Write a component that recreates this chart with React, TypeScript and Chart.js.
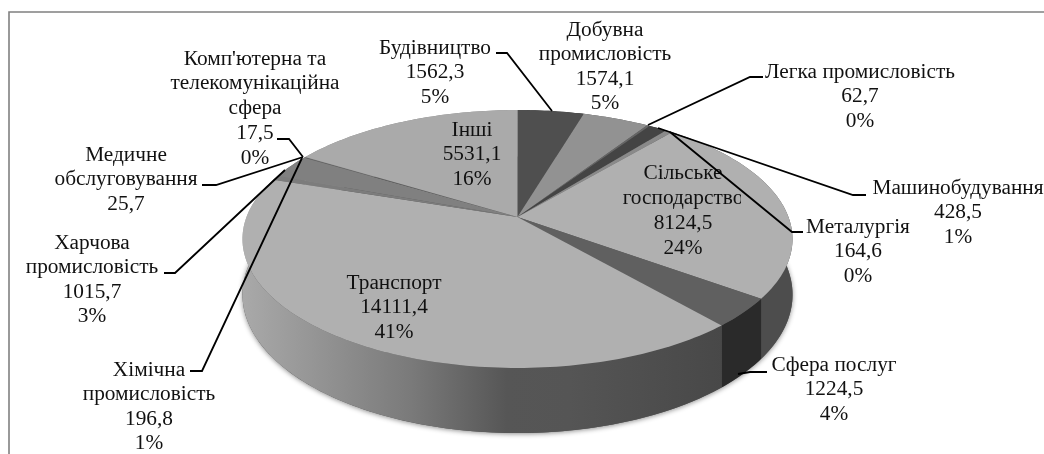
import React, { useEffect, useRef } from "react";
import { Chart, registerables } from "chart.js";

Chart.register(...registerables);

// ---- data ----
const categories: string[][] = [
  ["Будівництво"],
  ["Добувна", "промисловість"],
  ["Легка промисловість"],
  ["Машинобудування"],
  ["Металургія"],
  ["Сільське", "господарство"],
  ["Сфера послуг"],
  ["Транспорт"],
  ["Хімічна", "промисловість"],
  ["Харчова", "промисловість"],
  ["Медичне", "обслуговування"],
  ["Комп'ютерна та", "телекомунікаційна", "сфера"],
  ["Інші"],
];
const values = [1562.3, 1574.1, 62.7, 428.5, 164.6, 8124.5, 1224.5, 14111.4, 196.8, 1015.7, 25.7, 17.5, 5531.1];
const showPercent = [true, true, true, true, true, true, true, true, true, true, false, true, true];

// ---- styles ----
const topColors = ["#4f4f4f", "#929292", "#666666", "#444444", "#8a8a8a", "#b0b0b0", "#606060", "#b0b0b0", "#7c7c7c", "#808080", "#5a5a5a", "#6a6a6a", "#aaaaaa"];
const sideColors = ["#333", "#555", "#333", "#333", "#444", "#4d4d4d", "#2a2a2a", "", "#666", "#777", "#666", "#777", "#888"];

// ---- layout: projection of the tilted disc, and label placement ----
const APEX_X = 517.5, APEX_Y = 217, A = 271, B = 125.2, K = -0.1705, DEPTH = 54;
const project = (a: number, lower: boolean): [number, number] => {
  const u = Math.cos(a), v = Math.sin(a), w = 1 + K * v;
  return [APEX_X + (A * u) / w, APEX_Y + (B * v + (lower ? DEPTH : 0)) / w];
};
const LH = 24.6;
const labelPos: [number, number, number?][] = [
  [435, 48], [605, 30], [860, 72], [958, 188], [858, 227], [683, 173, 25], [834, 365],
  [394, 283], [149, 370], [92, 243], [126, 155], [255, 59, 24.8], [472, 130],
];
const leaders: [number, number][][] = [
  [[496, 53], [507, 53], [552, 111]],
  [],
  [[763, 77], [750, 77], [648, 125]],
  [[866, 195], [853, 195], [658, 128]],
  [[803, 232], [792, 232], [670, 132]],
  [],
  [[767, 372], [750, 372], [738, 374]],
  [],
  [[190, 371], [202, 371], [302, 158]],
  [[164, 273], [175, 273], [285, 170]],
  [[202, 185], [216, 185], [303, 157]],
  [[277, 139], [289, 139], [303, 157]],
  [],
];

const total = values.reduce((s, x) => s + x, 0);
const labelLines = (i: number) => {
  const out = [...categories[i], String(values[i]).replace(".", ",")];
  if (showPercent[i]) out.push(Math.round((values[i] / total) * 100) + "%");
  return out;
};

const arcPath = (ctx: CanvasRenderingContext2D, s: number, e: number, lower: boolean, rev = false) => {
  const n = Math.max(2, Math.ceil((e - s) / 0.02));
  for (let k = 0; k <= n; k++) {
    const t = rev ? 1 - k / n : k / n;
    const [x, y] = project(s + (e - s) * t, lower);
    ctx.lineTo(x, y);
  }
};

const pie3d = {
  id: "pie3d",
  beforeDatasetDraw(chart: any) {
    const ctx: CanvasRenderingContext2D = chart.ctx;
    const arcs = chart.getDatasetMeta(0).data;
    const full = Math.PI * 2;

    // soft shadow under the disc
    ctx.save();
    ctx.shadowColor = "rgba(0,0,0,0.45)";
    ctx.shadowBlur = 5;
    ctx.shadowOffsetY = 1;
    ctx.fillStyle = "#555";
    ctx.beginPath();
    arcPath(ctx, 0, full, true);
    ctx.closePath();
    ctx.fill();
    ctx.restore();

    // rim
    arcs.forEach((el: any, i: number) => {
      ctx.beginPath();
      arcPath(ctx, el.startAngle, el.endAngle, false);
      arcPath(ctx, el.startAngle, el.endAngle, true, true);
      ctx.closePath();
      if (sideColors[i]) {
        ctx.fillStyle = sideColors[i];
      } else {
        const g = ctx.createLinearGradient(243, 0, 723, 0);
        g.addColorStop(0, "#a9a9a9");
        g.addColorStop(0.2, "#8e8e8e");
        g.addColorStop(0.35, "#7a7a7a");
        g.addColorStop(0.55, "#565656");
        g.addColorStop(0.68, "#555555");
        g.addColorStop(1, "#484848");
        ctx.fillStyle = g;
      }
      ctx.fill();
    });

    // top face
    arcs.forEach((el: any, i: number) => {
      ctx.beginPath();
      ctx.moveTo(APEX_X, APEX_Y);
      arcPath(ctx, el.startAngle, el.endAngle, false);
      ctx.closePath();
      ctx.fillStyle = el.options.backgroundColor;
      ctx.fill();
    });
    return false;
  },
  afterDraw(chart: any) {
    const ctx: CanvasRenderingContext2D = chart.ctx;
    ctx.save();
    // frame
    ctx.strokeStyle = "#808080";
    ctx.lineWidth = 1.6;
    ctx.beginPath();
    ctx.moveTo(9, 454);
    ctx.lineTo(9, 12);
    ctx.lineTo(1044, 12);
    ctx.stroke();

    // labels
    ctx.font = '21.33px "Liberation Serif", "Times New Roman", serif';
    ctx.fillStyle = "#111";
    ctx.textAlign = "center";
    ctx.textBaseline = "middle";
    categories.forEach((_, i) => {
      const [x, y, step] = labelPos[i];
      ctx.save();
      if (i === 5) {
        ctx.beginPath();
        ctx.rect(0, 0, 741, 454);
        ctx.clip();
      }
      labelLines(i).forEach((t, j) => ctx.fillText(t, x, y + j * (step ?? LH)));
      ctx.restore();
    });

    // leader lines
    ctx.strokeStyle = "#000";
    ctx.lineWidth = 1.8;
    leaders.forEach((pts) => {
      if (!pts.length) return;
      ctx.beginPath();
      pts.forEach(([x, y], k) => (k ? ctx.lineTo(x, y) : ctx.moveTo(x, y)));
      ctx.stroke();
    });
    ctx.restore();
  },
};

export default function App() {
  const ref = useRef<HTMLCanvasElement>(null);
  useEffect(() => {
    document.body.style.margin = "0";
    const chart = new Chart(ref.current!, {
      type: "pie",
      data: {
        labels: categories.map((c) => c.join(" ")),
        datasets: [{ data: values, backgroundColor: topColors, borderWidth: 0 }],
      },
      options: {
        responsive: false,
        animation: false,
        events: [],
        plugins: { legend: { display: false }, tooltip: { enabled: false } },
      },
      plugins: [pie3d],
    } as any);
    return () => chart.destroy();
  }, []);
  return <canvas ref={ref} width={1044} height={454} style={{ display: "block", background: "#fff" }} />;
}
